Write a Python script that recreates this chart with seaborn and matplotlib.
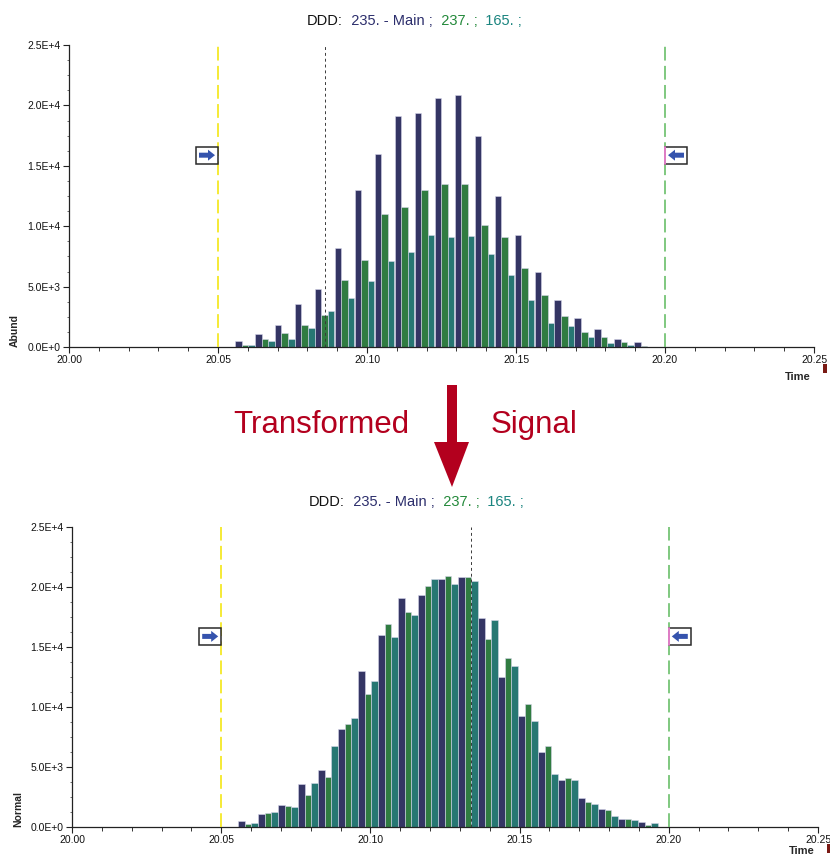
import matplotlib
matplotlib.use("Agg")
import matplotlib.pyplot as plt
import numpy as np
import pandas as pd
import seaborn as sns
from matplotlib.patches import Rectangle, FancyArrow, Polygon
from matplotlib.ticker import FixedLocator, MultipleLocator, FixedFormatter

# ---- data -------------------------------------------------------------
times = [20.0590, 20.0657, 20.0724, 20.0791, 20.0858, 20.0925, 20.0992,
         20.1059, 20.1126, 20.1193, 20.1260, 20.1327, 20.1394, 20.1461,
         20.1528, 20.1595, 20.1662, 20.1729, 20.1796, 20.1863, 20.1930]
series = ["235.", "237.", "165."]

# raw abundances (upper panel)
abund_235 = [530, 1050, 1820, 3550, 4780, 8160, 13030, 15980, 19100, 19350,
             20640, 20820, 17450, 12490, 9290, 6230, 3910, 2440, 1500, 690, 400]
abund_237 = [200, 670, 1140, 1780, 2690, 5560, 7200, 11000, 11600, 12970,
             13530, 13530, 10140, 9080, 6580, 4300, 2560, 1280, 830, 400, 60]
abund_165 = [200, 480, 670, 1560, 2940, 4060, 5450, 7140, 7900, 9280,
             9080, 9170, 7720, 5970, 3890, 1950, 1720, 830, 370, 140, 30]

# normalised signal (lower panel)
normal_235 = abund_235
normal_237 = [280, 1170, 1750, 2700, 4170, 8560, 11100, 16950, 17900, 20100,
              20920, 20830, 15700, 14080, 10280, 6720, 4080, 2110, 1390, 700, 200]
normal_165 = [370, 1250, 1670, 3670, 6720, 9060, 12200, 15800, 17700, 20640,
              20280, 20470, 17280, 13390, 8800, 4450, 3950, 1950, 920, 560, 370]

y_ticks = [0, 5000, 10000, 15000, 20000, 25000]
y_tick_labels = ["0.0E+0", "5.0E+3", "1.0E+4", "1.5E+4", "2.0E+4", "2.5E+4"]
x_ticks = [20.00, 20.05, 20.10, 20.15, 20.20, 20.25]
x_tick_labels = ["20.00", "20.05", "20.10", "20.15", "20.20", "20.25"]

window_start = 20.05
window_end = 20.20
apex_top = 20.0858
apex_bottom = 20.1336

# ---- style ------------------------------------------------------------
sns.set_style("ticks")
plt.rcParams["font.family"] = ["Liberation Sans", "DejaVu Sans"]

NAVY = "#2c2e6c"
GREEN = "#23893a"
TEAL = "#1a847f"
palette = {"235.": NAVY, "237.": GREEN, "165.": TEAL}
RED = "#b3001e"
ARROW_BLUE = "#3553ad"

W, H = 830, 859
fig = plt.figure(figsize=(W / 100, H / 100), dpi=100)
ax_top = fig.add_axes([69 / W, 1 - 347 / H, 745 / W, 302 / H])
ax_bot = fig.add_axes([72 / W, 1 - 827 / H, 746 / W, 300 / H])


def frame(values):
    rows = []
    for name, vals in zip(series, values):
        for t, v in zip(times, vals):
            rows.append({"time": t, "value": v, "series": name})
    return pd.DataFrame(rows)


def draw_panel(ax, values, ylabel, apex, time_y):
    df = frame(values)
    sns.barplot(data=df, x="time", y="value", hue="series", hue_order=series,
                palette=palette, native_scale=True, width=0.98, dodge=True,
                errorbar=None, edgecolor="#d6d6ea", linewidth=0.4,
                legend=False, ax=ax)
    ax.set_xlim(20.0, 20.25)
    ax.set_ylim(0, 25000)
    ax.xaxis.set_major_locator(FixedLocator(x_ticks))
    ax.xaxis.set_major_formatter(FixedFormatter(x_tick_labels))
    ax.xaxis.set_minor_locator(MultipleLocator(0.01))
    ax.yaxis.set_major_locator(FixedLocator(y_ticks))
    ax.yaxis.set_major_formatter(FixedFormatter(y_tick_labels))
    ax.yaxis.set_minor_locator(MultipleLocator(1250))
    ax.tick_params(axis="both", which="major", labelsize=7.5, length=4,
                   width=0.8, pad=2, color="#222222", labelcolor="#111111")
    ax.tick_params(axis="x", which="minor", length=3, width=0.7, color="#333333")
    ax.tick_params(axis="y", which="minor", length=1.5, width=0.6, color="#555555")
    ax.set_xlabel("")
    ax.set_ylabel(ylabel, fontsize=7.5, fontweight="bold")
    ax.yaxis.set_label_coords(-0.066, 0.0, transform=ax.transAxes)
    ax.yaxis.label.set_va("bottom")
    ax.yaxis.label.set_ha("left")
    ax.text(0.978, time_y, "Time", transform=ax.transAxes, fontsize=8,
            fontweight="bold", ha="center", va="center")
    sns.despine(ax=ax)
    for side in ("left", "bottom"):
        ax.spines[side].set_color("#222222")
        ax.spines[side].set_linewidth(0.9)
    ax.axvline(window_start, color="#f2e400", lw=1.1, dashes=(9, 3.5), zorder=4)
    ax.axvline(window_end, color="#5db95d", lw=1.1, dashes=(9, 3.5), zorder=4)
    ax.axvline(apex, color="#3a3a3a", lw=0.7, dashes=(3, 3), zorder=5)


draw_panel(ax_top, [abund_235, abund_237, abund_165], "Abund", apex_top, -0.1)
draw_panel(ax_bot, [normal_235, normal_237, normal_165], "Normal", apex_bottom, -0.08)


# ---- coloured trace titles ------------------------------------------------
def trace_title(x, y):
    parts = [("DDD:", "#111111"), ("  235. - Main ;", NAVY),
             ("  237. ;", GREEN), ("  165. ;", TEAL)]
    prev = fig.text(x, y, parts[0][0], color=parts[0][1], fontsize=10.5,
                    ha="left", va="center")
    for txt, col in parts[1:]:
        prev = ax_top.annotate(txt, xy=(1, 0), xycoords=prev, ha="left",
                               va="bottom", color=col, fontsize=10.5,
                               annotation_clip=False)


trace_title(307 / W, 1 - 21 / H)
trace_title(309 / W, 1 - 502 / H)

# ---- overlay in pixel units for markers and the middle arrow -------------
ov = fig.add_axes([0, 0, 1, 1], zorder=10)
ov.set_xlim(0, W)
ov.set_ylim(0, H)
ov.set_facecolor("none")
ov.axis("off")


def px(ax, x, yfrac):
    xd = ax.transData.transform((x, 0))[0]
    yd = ax.transAxes.transform((0, yfrac))[1]
    return xd, yd


def window_marks(ax):
    # left marker: box ending at the window start, arrow pointing right
    x0, y0 = px(ax, window_start, 0.607)
    bw, bh = 22, 17
    ov.add_patch(Rectangle((x0 - bw, y0), bw, bh, facecolor="white",
                           edgecolor="#2a2a2a", lw=1.1))
    ov.add_patch(FancyArrow(x0 - bw + 3, y0 + bh / 2, bw - 6, 0, width=5,
                            head_width=11, head_length=7,
                            length_includes_head=True, color=ARROW_BLUE, lw=0))
    # right marker: box starting at the window end, arrow pointing left
    x1, _ = px(ax, window_end, 0.607)
    ov.add_patch(Rectangle((x1, y0), bw, bh, facecolor="white",
                           edgecolor="#2a2a2a", lw=1.1))
    ov.plot([x1, x1], [y0, y0 + bh], color="#e27fc8", lw=1.4)
    ov.add_patch(FancyArrow(x1 + bw - 3, y0 + bh / 2, -(bw - 6), 0, width=5,
                            head_width=11, head_length=7,
                            length_includes_head=True, color=ARROW_BLUE, lw=0))
    # small handle at the right end of the time axis
    xe, ye = px(ax, 20.25, 0.0)
    ov.add_patch(Rectangle((xe + 9, ye - 26), 4, 9, facecolor="#7a1a14",
                           edgecolor="none"))


window_marks(ax_top)
window_marks(ax_bot)

# transformation arrow between the panels
ov.add_patch(Polygon([(447, H - 385), (457, H - 385), (457, H - 442),
                      (469, H - 442), (452, H - 487), (434, H - 442),
                      (447, H - 442)], closed=True, facecolor=RED,
                     edgecolor="none"))
fig.text(233 / W, 1 - 425 / H, "Transformed", color=RED, fontsize=22.5,
         ha="left", va="center")
fig.text(491 / W, 1 - 425 / H, "Signal", color=RED, fontsize=22.5,
         ha="left", va="center")

fig.savefig("out.png", dpi=100)
